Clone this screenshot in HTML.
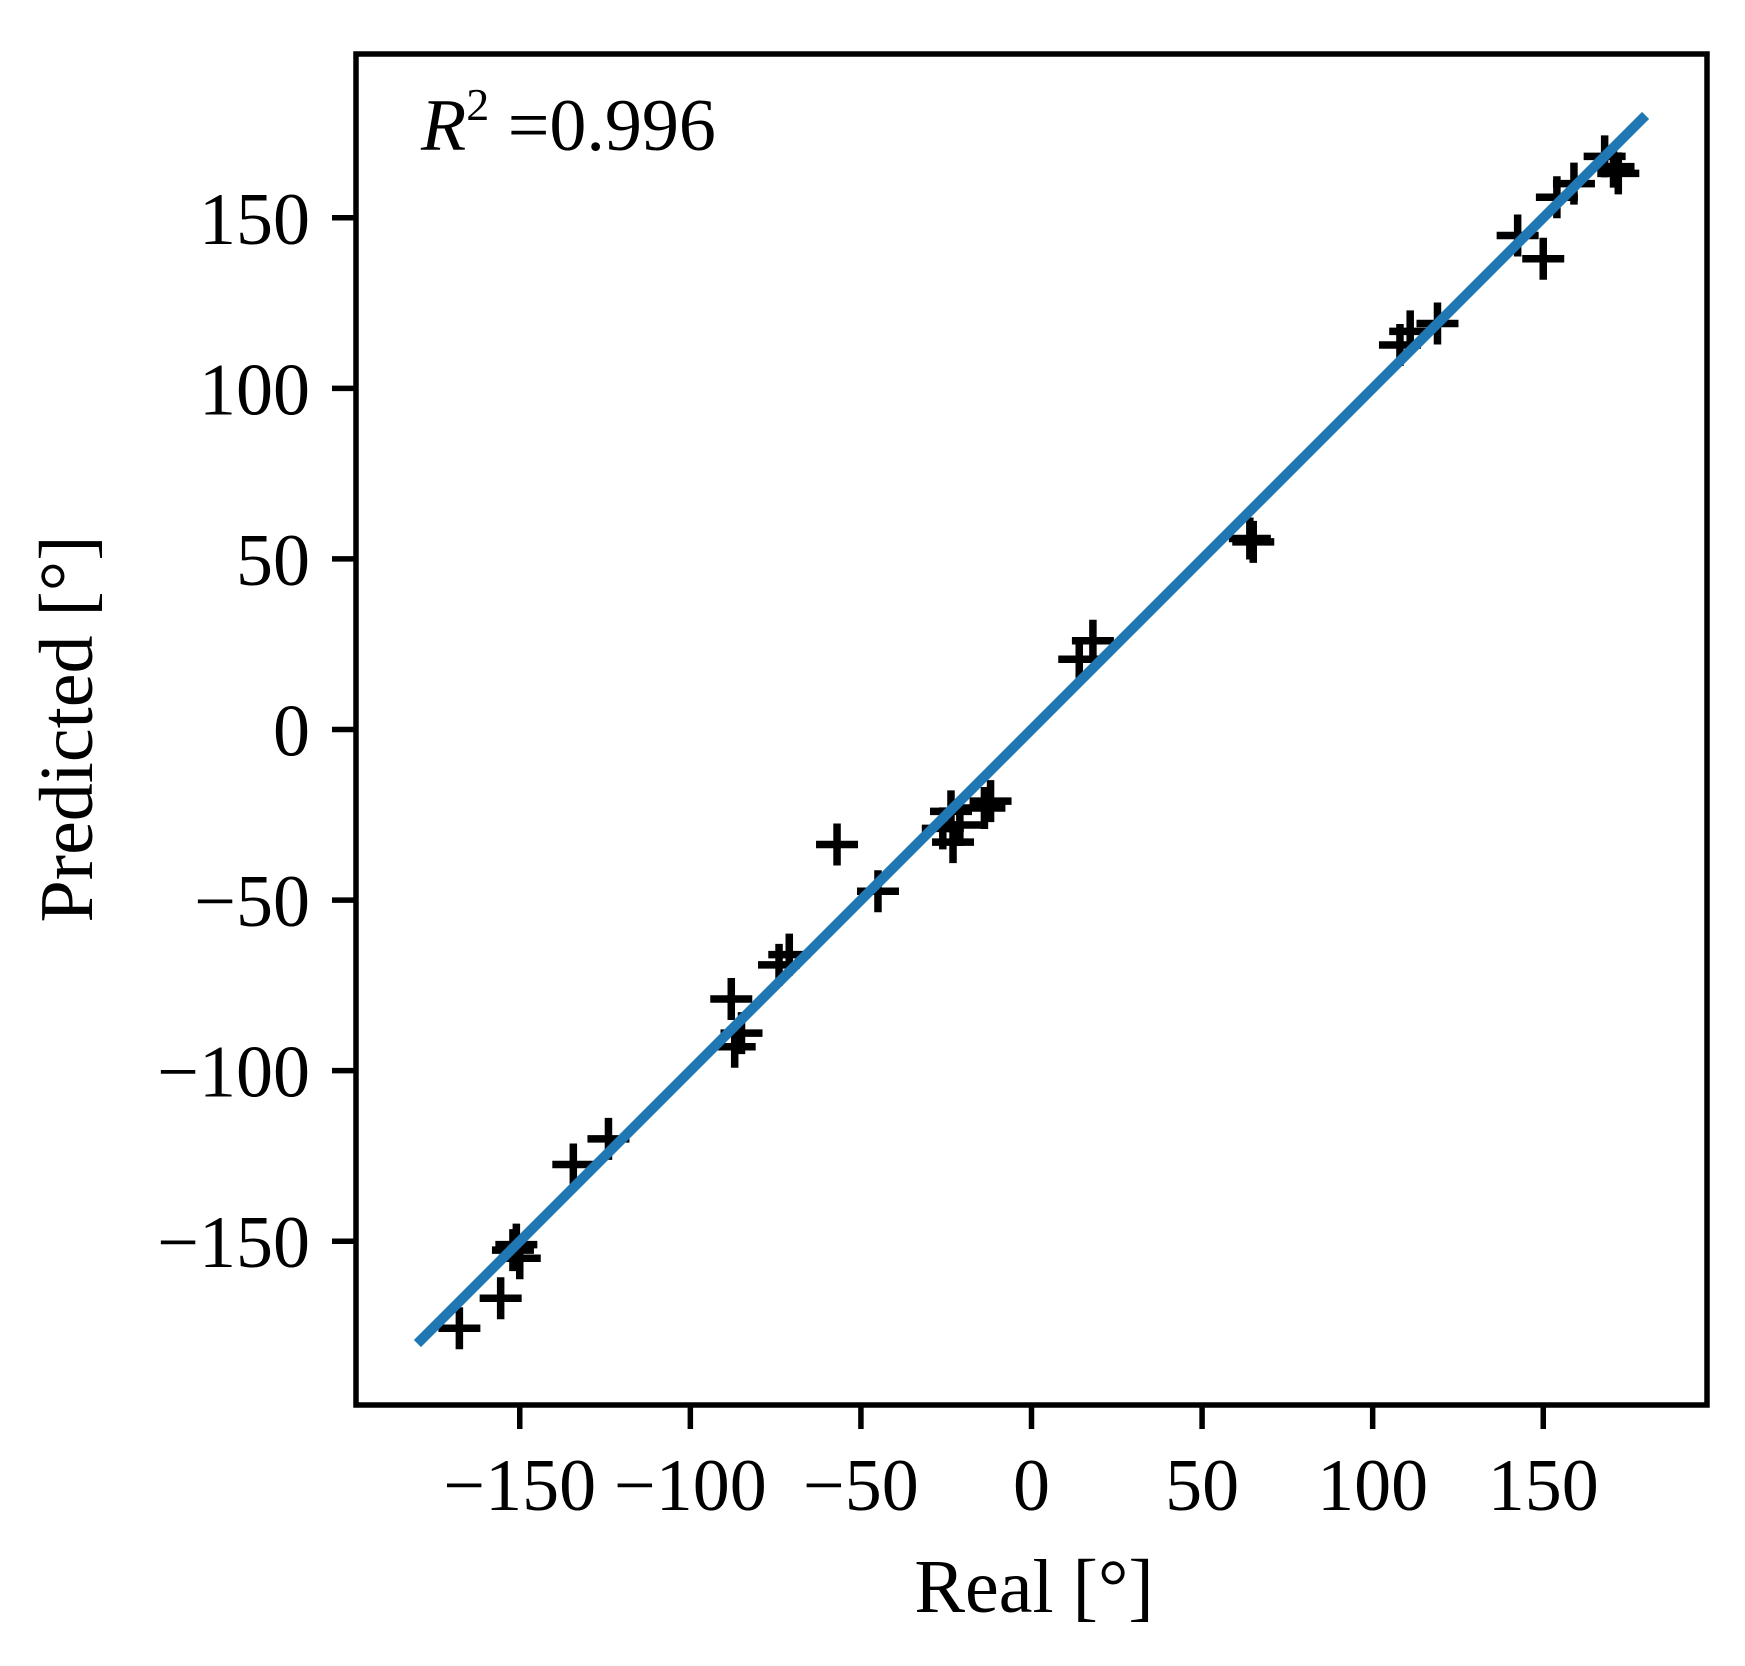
<!DOCTYPE html>
<html><head><meta charset="utf-8"><style>
html,body{margin:0;padding:0;background:#fff}
svg text{font-family:"Liberation Serif","DejaVu Serif",serif;fill:#000}
</style></head><body>
<svg id="chart" width="1745" height="1661" viewBox="0 0 1745 1661" xmlns="http://www.w3.org/2000/svg">
<rect x="0" y="0" width="1745" height="1661" fill="#fff"/>
<g id="marks"></g>
<g id="axes"></g>
<text x="421" y="150" font-size="74"><tspan font-style="italic">R</tspan><tspan font-size="46" dy="-30">2</tspan><tspan dy="30"> =0.996</tspan></text>
<text x="1034" y="1612" font-size="76" text-anchor="middle">Real [°]</text>
<text x="0" y="0" font-size="76" text-anchor="middle" transform="translate(92,729) rotate(-90)">Predicted [°]</text>
</svg>
<script>
const realValues = [-167.7,-155.6,-152,-150,-151,-134.3,-124,-88,-85,-87,-71,-74,-57,-45,-26,-21,-23,-23.6,-12,-13.8,14,18,64,65,108,111,119,142.5,150,154,159,168,172,170.6];
const predictedValues = [-175.5,-166.7,-152.6,-155,-151,-127.5,-120,-79,-89,-93,-66,-69,-33.7,-47.4,-29,-28,-33,-24,-21,-23,20.6,26,56,55,112.7,116.7,119,144.8,138,156,160,168,163,165];
const fitLine = [-180,180];
const tickValues = [-150,-100,-50,0,50,100,150];
const tickLabels = ["\u2212150","\u2212100","\u221250","0","50","100","150"];
const L=356,R=1707,T=54,B=1405,lo=-198,hi=198;
const sx=v=>L+(v-lo)/(hi-lo)*(R-L);
const sy=v=>B-(v-lo)/(hi-lo)*(B-T);
const NS="http://www.w3.org/2000/svg";
const marks=document.getElementById('marks'), axes=document.getElementById('axes');
function mk(tag,attrs,parent){const e=document.createElementNS(NS,tag);for(const k in attrs)e.setAttribute(k,attrs[k]);parent.appendChild(e);return e;}
realValues.forEach((x,i)=>{
  const cx=sx(x), cy=sy(predictedValues[i]), h=21;
  const p=mk('path',{d:`M${cx-h},${cy}H${cx+h}M${cx},${cy-h}V${cy+h}`,stroke:'#000','stroke-width':7.5,fill:'none'},marks);
  
  
});
const ln=mk('line',{x1:sx(fitLine[0]),y1:sy(fitLine[0]),x2:sx(fitLine[1]),y2:sy(fitLine[1]),stroke:'#1f77b4','stroke-width':10},marks);


const fr=mk('rect',{x:L,y:T,width:R-L,height:B-T,fill:'none',stroke:'#000','stroke-width':5.5},axes);


tickValues.forEach((v,i)=>{
  const xt=mk('line',{x1:sx(v),y1:B,x2:sx(v),y2:B+24,stroke:'#000','stroke-width':5.5},axes);
  
  
  const xl=mk('text',{x:sx(v),y:1510,'font-size':74,'text-anchor':'middle'},axes);
  xl.textContent=tickLabels[i];
  
  
  const yt=mk('line',{x1:L-24,y1:sy(v),x2:L,y2:sy(v),stroke:'#000','stroke-width':5.5},axes);
  
  
  const yl=mk('text',{x:L-46,y:sy(v)+26,'font-size':74,'text-anchor':'end'},axes);
  yl.textContent=tickLabels[i];
  
  
});
</script>
</body></html>
